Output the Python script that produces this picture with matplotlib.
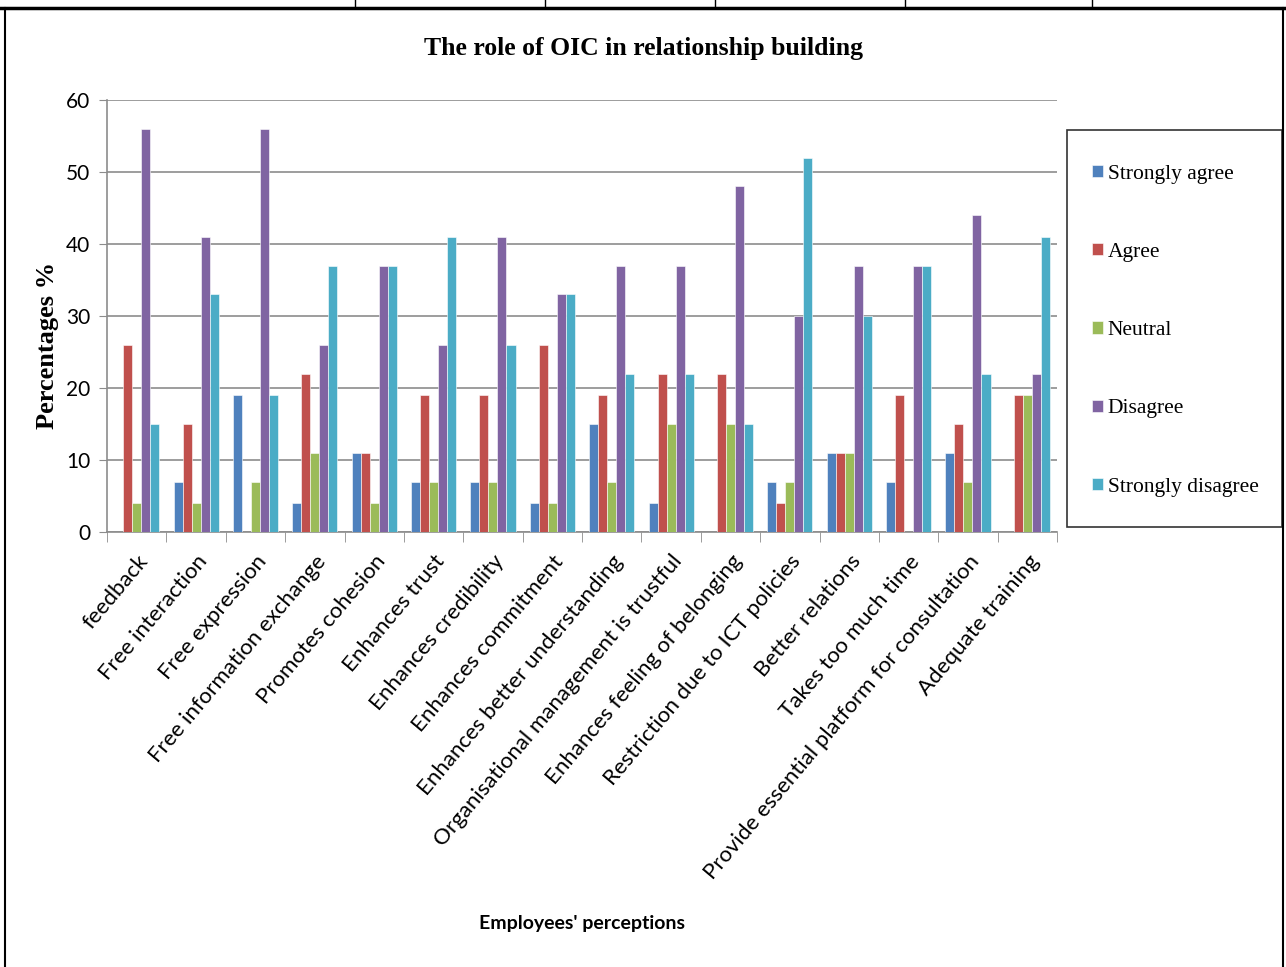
import matplotlib
matplotlib.use("Agg")
import matplotlib.pyplot as plt
from matplotlib.lines import Line2D
from matplotlib.patches import Rectangle
import numpy as np

# Data
categories = [
    "feedback", "Free interaction", "Free expression", "Free information exchange",
    "Promotes cohesion", "Enhances trust", "Enhances credibility", "Enhances commitment",
    "Enhances better understanding", "Organisational management is trustful",
    "Enhances feeling of belonging", "Restriction due to ICT policies", "Better relations",
    "Takes too much time", "Provide essential platform for consultation", "Adequate training",
]
series_names = ["Strongly agree", "Agree", "Neutral", "Disagree", "Strongly disagree"]
strongly_agree = [0, 7, 19, 4, 11, 7, 7, 4, 15, 4, 0, 7, 11, 7, 11, 0]
agree = [26, 15, 0, 22, 11, 19, 19, 26, 19, 22, 22, 4, 11, 19, 15, 19]
neutral = [4, 4, 7, 11, 4, 7, 7, 4, 7, 15, 15, 7, 11, 0, 7, 19]
disagree = [56, 41, 56, 26, 37, 26, 41, 33, 37, 37, 48, 30, 37, 37, 44, 22]
strongly_disagree = [15, 33, 19, 37, 37, 41, 26, 33, 22, 22, 15, 52, 30, 37, 22, 41]
yticks = [0, 10, 20, 30, 40, 50, 60]

colors = ["#4F81BD", "#C0504D", "#9BBB59", "#8064A2", "#4BACC6"]
values = [strongly_agree, agree, neutral, disagree, strongly_disagree]

W, H = 1286, 967
fig = plt.figure(figsize=(W / 100, H / 100), dpi=100)
ax = fig.add_axes([107 / W, 1 - 532 / H, (1057 - 107) / W, (532 - 100) / H])

x = np.arange(len(categories))
bw = 0.152
for i, (name, vals, c) in enumerate(zip(series_names, values, colors)):
    ax.bar(x + (i - 2) * bw, vals, bw, color=c, label=name, edgecolor="white", linewidth=0.4, zorder=3)

ax.set_xlim(-0.5, len(categories) - 0.5)
ax.set_ylim(0, 60)
ax.set_yticks(yticks)
ax.set_yticklabels([str(v) for v in yticks], fontsize=15, family="Lato")
ax.yaxis.grid(True, color="#8c8c8c", linewidth=1.2, zorder=0)
ax.tick_params(axis="y", length=6, color="#8c8c8c", pad=6)

ax.set_xticks(x)
ax.set_xticklabels(categories, rotation=50, ha="right", rotation_mode="anchor",
                   fontsize=16, family="Lato")
ax.set_xticks(np.arange(-0.5, len(categories), 1), minor=True)
ax.tick_params(axis="x", which="major", length=0, pad=14)
ax.tick_params(axis="x", which="minor", length=7, color="#8c8c8c")

for s in ["top", "right"]:
    ax.spines[s].set_visible(False)
for s in ["left", "bottom"]:
    ax.spines[s].set_color("#8c8c8c")
    ax.spines[s].set_linewidth(1.2)

ax.set_ylabel("Percentages %", fontsize=19, fontweight="bold", family="Liberation Serif")
ax.yaxis.set_label_coords(-0.051, 0.433)
fig.text(582 / W, 1 - 924 / H, "Employees' perceptions", ha="center", va="center",
         fontsize=14, fontweight="bold", family="Lato")
fig.text(643 / W, 1 - 48 / H, "The role of OIC in relationship building", ha="center", va="center",
         fontsize=18.5, fontweight="bold", family="Liberation Serif")

# legend box drawn as a fixed frame, entries placed inside it
fig.add_artist(Rectangle((1067 / W, 1 - 527 / H), (1282 - 1067) / W, (527 - 130) / H,
                         transform=fig.transFigure, fill=False, edgecolor="#333333", linewidth=1.2))
leg = ax.legend(loc="upper left", bbox_to_anchor=(1067 / W, 1 - 140 / H), bbox_transform=fig.transFigure,
                prop={"family": "Liberation Serif", "size": 15.5}, frameon=False,
                handlelength=0.5, handleheight=0.5, handletextpad=0.25, labelspacing=2.75,
                borderpad=1.15, borderaxespad=0)

# page frame around the chart (table cell borders)
fig.add_artist(Line2D([0, 1], [1 - 8 / H, 1 - 8 / H], transform=fig.transFigure, color="black", linewidth=2.5))
fig.add_artist(Line2D([5 / W, 5 / W], [0, 1 - 8 / H], transform=fig.transFigure, color="black", linewidth=1.5))
fig.add_artist(Line2D([1283 / W, 1283 / W], [0, 1 - 8 / H], transform=fig.transFigure, color="black", linewidth=1.5))
for px in [355, 545, 715, 905, 1092]:
    fig.add_artist(Line2D([px / W, px / W], [1 - 8 / H, 1], transform=fig.transFigure, color="black", linewidth=1))

fig.savefig("out.png", dpi=100)
